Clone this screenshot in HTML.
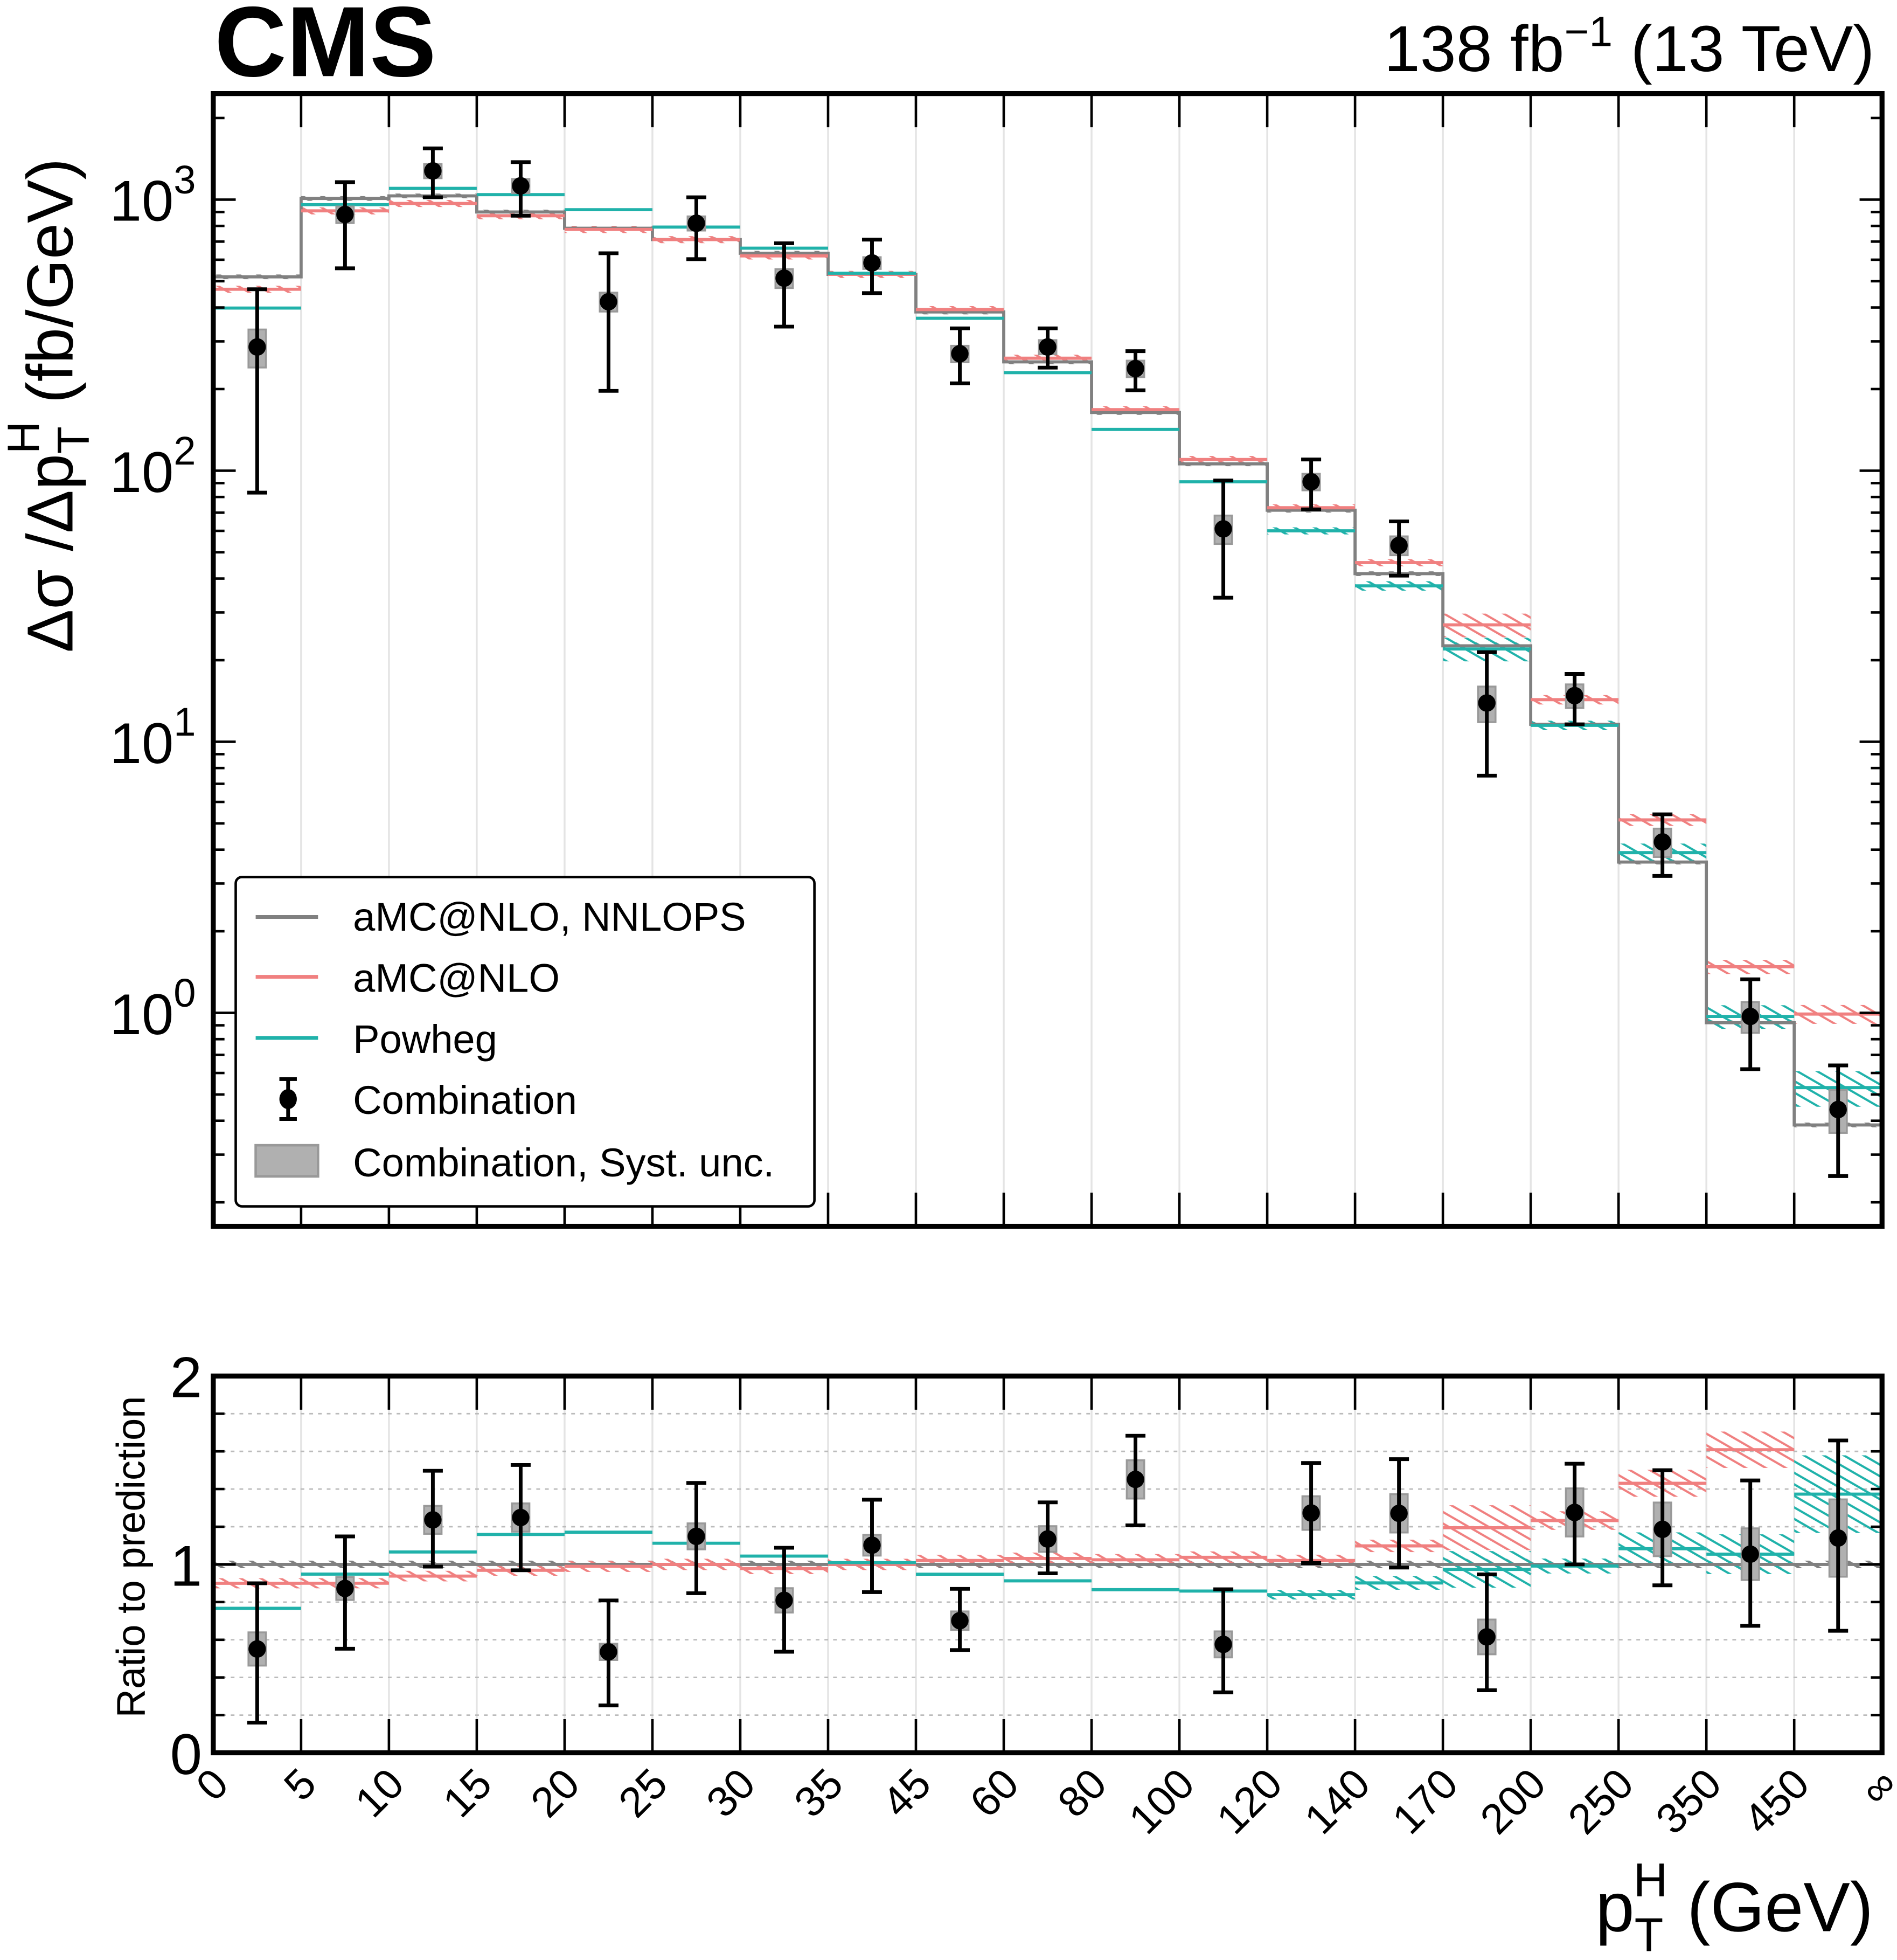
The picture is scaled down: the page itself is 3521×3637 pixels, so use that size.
<!DOCTYPE html>
<html><head><meta charset="utf-8"><style>
html,body{margin:0;padding:0;background:#fff}
svg{display:block}
text{font-family:"Liberation Sans",Arial,sans-serif;fill:#000}
</style></head><body>
<svg id="chart" xmlns="http://www.w3.org/2000/svg" width="3521" height="3637" viewBox="0 0 1521 1571.1" preserveAspectRatio="none">
<defs>
<pattern id="hatchGray" patternUnits="userSpaceOnUse" width="8" height="8" patternTransform="rotate(-60)"><line x1="0" y1="0" x2="0" y2="8" stroke="#808080" stroke-width="4"/></pattern>
<pattern id="hatchRed" patternUnits="userSpaceOnUse" width="8" height="8" patternTransform="rotate(-60)"><line x1="0" y1="0" x2="0" y2="8" stroke="#f08080" stroke-width="3.5"/></pattern>
<pattern id="hatchTeal" patternUnits="userSpaceOnUse" width="8" height="8" patternTransform="rotate(-60)"><line x1="0" y1="0" x2="0" y2="8" stroke="#20b2aa" stroke-width="3.5"/></pattern>
</defs>
<g id="grid"></g>
<g id="bands"></g>
<g id="lines"></g>
<g id="points"></g>
<g id="axes"></g>
<text x="172" y="61" font-size="80" font-weight="bold">CMS</text>
<text x="1503" y="57" font-size="52" text-anchor="end">138 fb<tspan dy="-20" font-size="34">−1</tspan><tspan dy="20"> (13 TeV)</tspan></text>
<text transform="translate(58,325) rotate(-90)" font-size="52" text-anchor="middle">Δσ /Δp<tspan dy="13" font-size="36">T</tspan><tspan dy="-40" dx="-22" font-size="36">H</tspan><tspan dy="27"> (fb/GeV)</tspan></text>
<text transform="translate(116,1248) rotate(-90)" font-size="32" text-anchor="middle">Ratio to prediction</text>
<text x="1502" y="1548" font-size="56" text-anchor="end">p<tspan dy="16" font-size="38">T</tspan><tspan dy="-44" dx="-24" font-size="38">H</tspan><tspan dy="28"> (GeV)</tspan></text>
<g id="legend">
<rect x="189" y="703" width="464" height="264" rx="5" fill="#fff" stroke="#000" stroke-width="2"/>
<line x1="205" y1="735" x2="255" y2="735" stroke="#808080" stroke-width="3"/>
<text x="283" y="746" font-size="32">aMC@NLO, NNLOPS</text>
<line x1="205" y1="783" x2="255" y2="783" stroke="#f08080" stroke-width="3"/>
<text x="283" y="795" font-size="32">aMC@NLO</text>
<line x1="205" y1="832" x2="255" y2="832" stroke="#20b2aa" stroke-width="3"/>
<text x="283" y="844" font-size="32">Powheg</text>
<g><line x1="231" y1="865" x2="231" y2="897" stroke="#000" stroke-width="3"/><line x1="224" y1="865" x2="238" y2="865" stroke="#000" stroke-width="3"/><line x1="224" y1="897" x2="238" y2="897" stroke="#000" stroke-width="3"/><ellipse cx="231" cy="881" rx="7" ry="8"/></g>
<text x="283" y="893" font-size="32">Combination</text>
<rect x="205" y="918" width="50" height="25" fill="#b0b0b0" stroke="#999" stroke-width="2"/>
<text x="283" y="943" font-size="32">Combination, Syst. unc.</text>
</g>
</svg>
<script>
const binLabels = ["0","5","10","15","20","25","30","35","45","60","80","100","120","140","170","200","250","350","450","∞"];
const nnlops = [519,1010,1032,900,784,712,634,530,385,252,164,106,71.5,41.7,22.6,11.6,3.6,0.92,0.386];
const amcnlo = [467,909,968,872,776,712,620,530,393,260,168,110,73,45.8,27,14.3,5.15,1.48,0.99];
const powheg = [398,958,1100,1043,918,792,662,535,365,230,142,91,60,37.6,22,11.5,3.9,0.97,0.53];
const dataVal = [286,881,1276,1124,420,818,513,584,270,286,238,61,91,53,13.9,14.8,4.27,0.97,0.44];
const dataHi = [467,1160,1545,1375,634,1020,690,712,335,335,276,92,110,65,21.4,17.8,5.4,1.33,0.64];
const dataLo = [83,558,1020,872,197,603,340,452,210,240,198,34,72,41,7.5,11.6,3.2,0.62,0.25];
const systFrac = [0.16,0.07,0.06,0.06,0.08,0.06,0.08,0.05,0.07,0.06,0.07,0.12,0.07,0.08,0.15,0.1,0.12,0.13,0.18];
const nnlopsUnc = [0.02,0.02,0.02,0.02,0.02,0.02,0.02,0.02,0.02,0.02,0.02,0.02,0.02,0.02,0.03,0.02,0.02,0.02,0.02];
const amcUnc = [0.03,0.03,0.03,0.03,0.03,0.03,0.03,0.03,0.03,0.03,0.03,0.03,0.03,0.03,0.1,0.04,0.05,0.06,0.08];
const powhegUnc = [0,0,0,0,0,0,0,0,0,0,0,0,0.03,0.04,0.1,0.04,0.08,0.1,0.15];

const NS="http://www.w3.org/2000/svg";
const X0=171,X1=1509,MT=75,MB=983,RT=1103,RB=1405;
const nb=binLabels.length-1;
const bw=(X1-X0)/nb;
const xE=i=>X0+bw*i;
const yM=v=>160+(3-Math.log10(v))*217.3;
const yR=v=>RB-v*151;
function mk(tag,attrs,parent){const e=document.createElementNS(NS,tag);for(const k in attrs)e.setAttribute(k,attrs[k]);parent.appendChild(e);return e;}
const G=id=>document.getElementById(id);
const grid=G('grid'),bands=G('bands'),lines=G('lines'),points=G('points'),axes=G('axes');

for(let i=1;i<nb;i++){
 for(const [a,b] of [[MT,MB],[RT,RB]]){
  const l=mk('line',{x1:xE(i),x2:xE(i),y1:a,y2:b,stroke:'#e4e4e4','stroke-width':1.5},grid);
  
  
 }
}
for(let k=1;k<10;k++){const v=k*0.2;if(Math.abs(v-1)<1e-6)continue;
 const l=mk('line',{x1:X0,x2:X1,y1:yR(v),y2:yR(v),stroke:'#bbb','stroke-width':1.2,'stroke-dasharray':'3,4'},grid);
 
 
}

const series=[[nnlops,nnlopsUnc,'#808080','hatchGray','nnlops'],[amcnlo,amcUnc,'#f08080','hatchRed','amcnlo'],[powheg,powhegUnc,'#20b2aa','hatchTeal','powheg']];
for(const [vals,unc,col,pat,name] of series){
 let dMain='',dRatio='';
 for(let i=0;i<nb;i++){
  const v=vals[i],r=v/nnlops[i];
  if(unc[i]>0){
   const b=mk('rect',{x:xE(i),width:bw,y:yM(v*(1+unc[i])),height:yM(v*(1-unc[i]))-yM(v*(1+unc[i])),fill:`url(#${pat})`},bands);
   
   
   const ry1=Math.max(RT,yR(r*(1+unc[i]))),ry2=Math.min(RB,yR(r*(1-unc[i])));
   if(ry2>ry1){const b2=mk('rect',{x:xE(i),width:bw,y:ry1,height:ry2-ry1,fill:`url(#${pat})`},bands);
   
   }
  }
  if(name==='nnlops'){dMain+=(i===0?'M':'L')+xE(i)+','+yM(v)+'L'+xE(i+1)+','+yM(v);}
  else{dMain+='M'+xE(i)+','+yM(v)+'L'+xE(i+1)+','+yM(v);}
  if(r<=2) dRatio+='M'+xE(i)+','+yR(r)+'L'+xE(i+1)+','+yR(r);
 }
 const p=mk('path',{d:dMain,fill:'none',stroke:col,'stroke-width':2.5},lines);
 
 
 const p2=mk('path',{d:dRatio,fill:'none',stroke:col,'stroke-width':2.5},lines);
 
 
}

for(let i=0;i<nb;i++){
 const cx=xE(i)+bw/2,v=dataVal[i],s=systFrac[i],ref=nnlops[i];
 for(const [f,scale] of [[yM,1],[yR,1/ref]]){
  const vv=v*scale,hi=dataHi[i]*scale,lo=dataLo[i]*scale;
  const sy1=f(vv*(1+s)),sy2=f(vv*(1-s));
  const sb=mk('rect',{x:cx-7,y:sy1,width:14,height:sy2-sy1,fill:'#b0b0b0',stroke:'#999','stroke-width':1.5},points);
  
  
  const g=mk('g',{},points);
  
  
  mk('line',{x1:cx,x2:cx,y1:f(hi),y2:f(lo),stroke:'#000','stroke-width':3},g);
  mk('line',{x1:cx-8,x2:cx+8,y1:f(hi),y2:f(hi),stroke:'#000','stroke-width':3},g);
  mk('line',{x1:cx-8,x2:cx+8,y1:f(lo),y2:f(lo),stroke:'#000','stroke-width':3},g);
  mk('circle',{cx:cx,cy:f(vv),r:7},g);
 }
}

for(const [a,b,n] of [[MT,MB,'main-frame'],[RT,RB,'ratio-frame']]){
 const r=mk('rect',{x:X0,y:a,width:X1-X0,height:b-a,fill:'none',stroke:'#000','stroke-width':4},axes);
 
 
 for(let i=1;i<nb;i++){
  mk('line',{x1:xE(i),x2:xE(i),y1:a,y2:a+27,stroke:'#000','stroke-width':2},axes);
  mk('line',{x1:xE(i),x2:xE(i),y1:b,y2:b-27,stroke:'#000','stroke-width':2},axes);
 }
}
const yTickExp=[0,1,2,3];
for(let e=-1;e<=3;e++){for(let m=1;m<10;m++){const v=m*Math.pow(10,e);const y=yM(v);if(y<MT||y>MB)continue;
 const L=m===1?18:9;
 mk('line',{x1:X0,x2:X0+L,y1:y,y2:y,stroke:'#000','stroke-width':2},axes);
 mk('line',{x1:X1,x2:X1-L,y1:y,y2:y,stroke:'#000','stroke-width':2},axes);
}}
for(const e of yTickExp){
 const t=mk('text',{x:157,y:yM(Math.pow(10,e))+17,'font-size':46,'text-anchor':'end'},axes);
 
 
 t.innerHTML='10<tspan dy="-22" font-size="32">'+e+'</tspan>';
}
for(let k=0;k<=10;k++){const v=k*0.2,y=yR(v);const L=(k%5===0)?18:9;
 mk('line',{x1:X0,x2:X0+L,y1:y,y2:y,stroke:'#000','stroke-width':2},axes);
 mk('line',{x1:X1,x2:X1-L,y1:y,y2:y,stroke:'#000','stroke-width':2},axes);
}
for(const v of [0,1,2]){
 const t=mk('text',{x:162,y:yR(v)+17,'font-size':46,'text-anchor':'end'},axes);
 
 
 t.textContent=String(v);
}
binLabels.forEach((lab,i)=>{
 const x=xE(i)+14,y=1432;
 const t=mk('text',{x:x,y:y,'font-size':34,'text-anchor':'end',transform:`rotate(-45 ${x} ${y})`},axes);
 
 
 t.textContent=lab;
});
</script>
</body></html>
